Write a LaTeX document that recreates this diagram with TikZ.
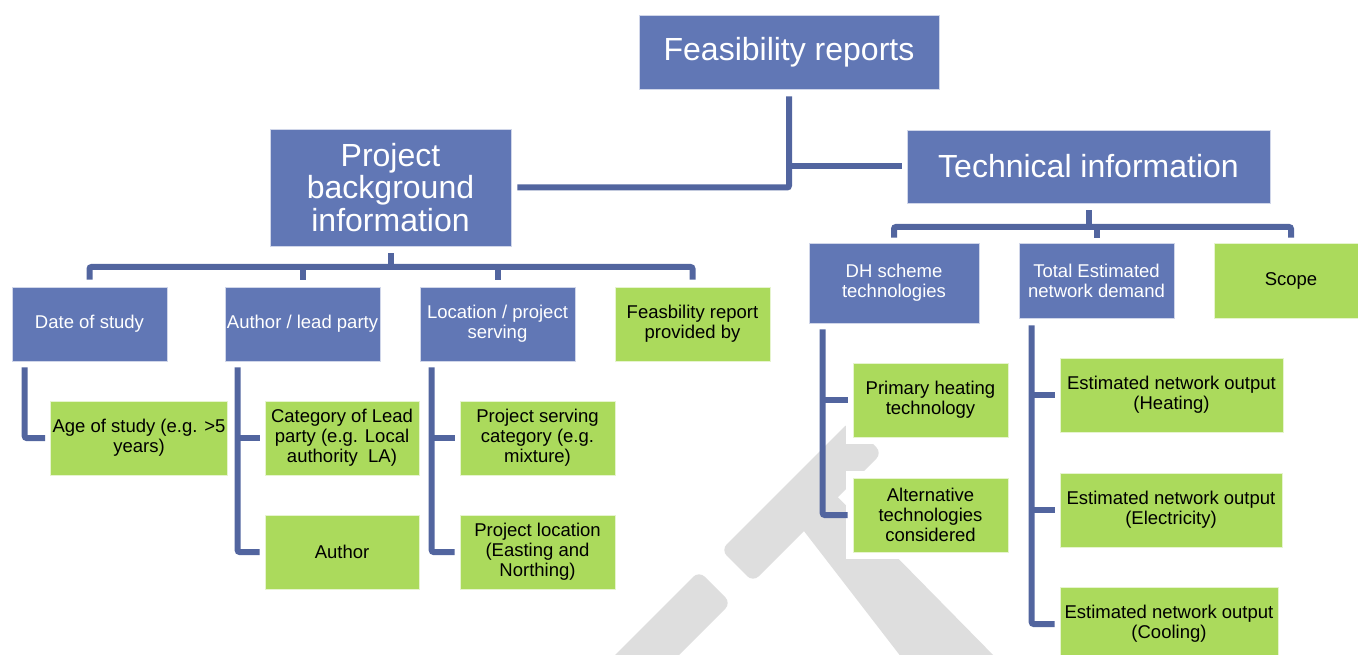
\documentclass[tikz,border=0pt]{standalone}
\usepackage{fontspec}
\setmainfont{Liberation Sans}
\usetikzlibrary{calc}

\definecolor{boxblue}{HTML}{6177B5}
\definecolor{linkblue}{HTML}{52659F}
\definecolor{boxgreen}{HTML}{ABDA5C}
\definecolor{wmgray}{HTML}{DEDEDE}

\tikzset{
  box/.style={rectangle, inner sep=2pt, align=center, line width=0.6pt,
    preaction={draw=white, line width=14pt}},
  bluebox/.style={box, fill=boxblue, draw=white!70!boxblue, text=white},
  greenbox/.style={box, fill=boxgreen, draw=white!70!boxgreen, text=black},
  small/.style={font=\fontsize{18.5}{20}\selectfont},
  big/.style={font=\fontsize{32}{32.5}\selectfont},
  link/.style={draw=linkblue, line width=6pt, rounded corners=2pt},
}

\begin{document}
\begin{tikzpicture}[x=1pt, y=-1pt]
        \useasboundingbox (0,0) rectangle (1358,655);

        % watermark behind the chart
        \fill[wmgray, rounded corners=8pt] (699,571) -- (731,603) -- (625,709) -- (593,677) -- cycle;
        \fill[wmgray, rounded corners=8pt] (721,550) -- (753,582) -- (882,453) -- (850,421) -- cycle;
        \fill[wmgray] (790,513) -- (822,481) -- (1000,662) -- (905,662) -- cycle;

        % top level
        \node[bluebox, big, minimum width=300pt, minimum height=74pt] (feas) at (789,52) {Feasibility reports};
        \node[bluebox, big, minimum width=241pt, minimum height=117pt] (pbi) at (390.5,187.5) {Project\\background\\information};
        \node[bluebox, big, minimum width=363pt, minimum height=73pt] (tech) at (1088.5,166.5) {Technical information};

        % project background
        \node[bluebox, small, minimum width=155pt, minimum height=74pt] (date) at (89.5,324) {Date of study};
        \node[bluebox, small, minimum width=155pt, minimum height=74pt] (author) at (302.5,324) {Author / lead party};
        \node[bluebox, small, minimum width=155pt, minimum height=74pt] (location) at (497.5,324) {Location / project\\serving};
        \node[greenbox, small, minimum width=155pt, minimum height=74pt] (provided) at (692.5,324) {Feasbility report\\provided by};

        \node[greenbox, small, minimum width=174pt, minimum height=74pt] (age) at (139,438) {Age of study (e.g. >5\\years)};
        \node[greenbox, small, minimum width=154pt, minimum height=74pt] (category) at (342,438) {Category of Lead\\party (e.g. Local\\authority~ LA)};
        \node[greenbox, small, minimum width=154pt, minimum height=74pt] (authorname) at (342,552) {Author};
        \node[greenbox, small, minimum width=155pt, minimum height=74pt] (servcat) at (537.5,438) {Project serving\\category (e.g.\\mixture)};
        \node[greenbox, small, minimum width=155pt, minimum height=74pt] (projloc) at (537.5,552) {Project location\\(Easting and\\Northing)};

        % technical information
        \node[bluebox, small, minimum width=170pt, minimum height=80pt] (dh) at (894,283) {DH scheme\\technologies};
        \node[bluebox, small, minimum width=155pt, minimum height=75pt] (total) at (1096.5,280.5) {Total Estimated\\network demand};
        \node[greenbox, small, minimum width=154pt, minimum height=75pt] (scope) at (1291,280.5) {Scope};

        \node[greenbox, small, minimum width=155pt, minimum height=74pt] (primary) at (930.5,400) {Primary heating\\technology};
        \node[greenbox, small, minimum width=155pt, minimum height=74pt] (alternative) at (930.5,515) {Alternative\\technologies\\considered};
        \node[greenbox, small, minimum width=223pt, minimum height=74pt] (heating) at (1171.5,395) {Estimated network output\\(Heating)};
        \node[greenbox, small, minimum width=222pt, minimum height=74pt] (electricity) at (1171,510) {Estimated network output\\(Electricity)};
        \node[greenbox, small, minimum width=218pt, minimum height=74pt] (cooling) at (1169,624) {Estimated network output\\(Cooling)};

        % links from the top
        \draw[link] ([yshift=-7pt]feas.south) |- ([xshift=6pt]pbi.east);
        \draw[link] (feas.south |- tech.west) -- ([xshift=-5pt]tech.west);

        % left branch
        \coordinate (lbar) at (0,267);
        \draw[link] ([yshift=-7pt]pbi.south) -- (pbi.south |- lbar);
        \draw[link] ([yshift=7pt]date.north) |- (lbar -| provided.north) -- ([yshift=7pt]provided.north);
        \foreach \n in {author,location}
            \draw[link] (lbar -| \n.north) -- ([yshift=7pt]\n.north);

        \coordinate (c1) at ([xshift=13pt,yshift=-6pt]date.south west);
        \draw[link] (c1) |- ([xshift=-5pt]age.west);
        \coordinate (c2) at ([xshift=13pt,yshift=-6pt]author.south west);
        \draw[link] (c2) |- ([xshift=-5pt]authorname.west);
        \draw[link] (c2 |- category.west) -- ([xshift=-5pt]category.west);
        \coordinate (c3) at ([xshift=12pt,yshift=-6pt]location.south west);
        \draw[link] (c3) |- ([xshift=-5pt]projloc.west);
        \draw[link] (c3 |- servcat.west) -- ([xshift=-5pt]servcat.west);

        % right branch
        \coordinate (rbar) at (0,227);
        \draw[link] ([yshift=-7pt]tech.south) -- (tech.south |- rbar);
        \draw[link] ([yshift=5pt]dh.north) |- (rbar -| scope.north) -- ([yshift=5pt]scope.north);
        \draw[link] (rbar -| total.north) -- ([yshift=5pt]total.north);

        \coordinate (c4) at ([xshift=14pt,yshift=-6pt]dh.south west);
        \draw[link] (c4) |- ([xshift=-5pt]alternative.west);
        \draw[link] (c4 |- primary.west) -- ([xshift=-5pt]primary.west);
        \coordinate (c5) at ([xshift=13pt,yshift=-7pt]total.south west);
        \draw[link] (c5) |- ([xshift=-5pt]cooling.west);
        \foreach \n in {heating,electricity}
            \draw[link] (c5 |- \n.west) -- ([xshift=-5pt]\n.west);

\end{tikzpicture}
\end{document}
